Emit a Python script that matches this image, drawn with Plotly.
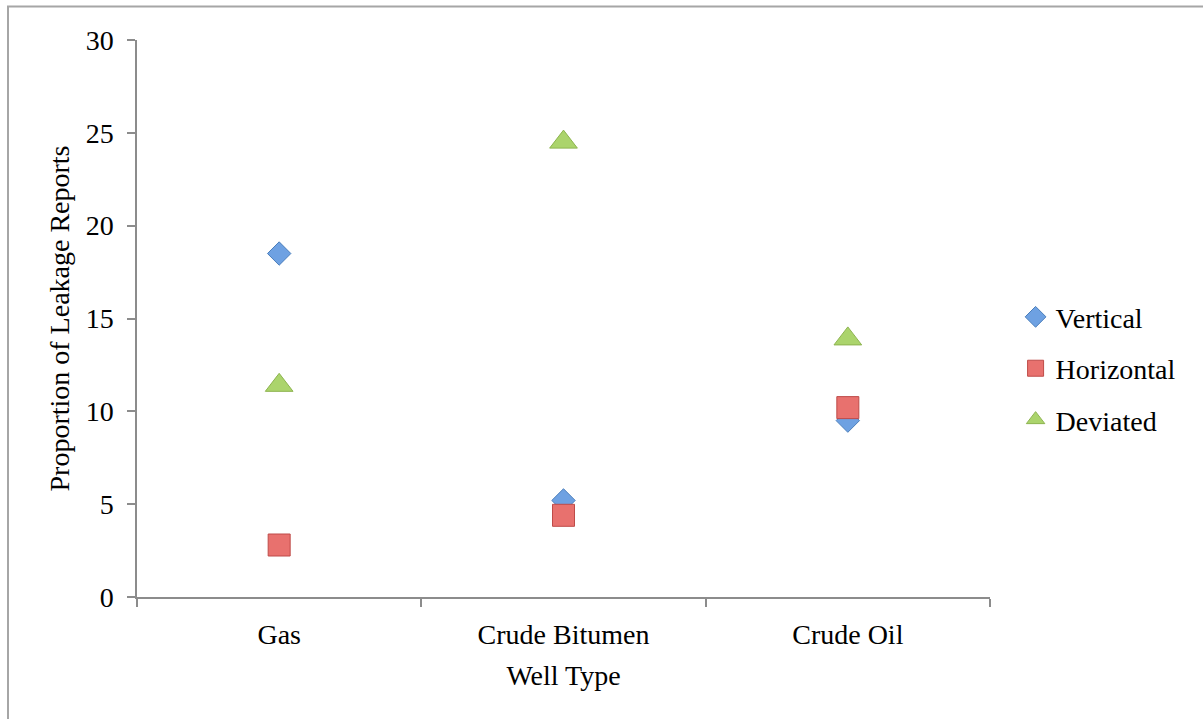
import plotly.graph_objects as go

# Well types on the x axis
well_types = ["Gas", "Crude Bitumen", "Crude Oil"]

# Proportion of leakage reports per well orientation
vertical = [18.5, 5.2, 9.5]
horizontal = [2.8, 4.4, 10.2]
deviated = [11.4, 24.5, 13.9]

y_ticks = [0, 5, 10, 15, 20, 25, 30]

FONT = "Liberation Serif, Times New Roman, serif"
FS = 28
AXIS_GRAY = "#8c8c8c"

fig = go.Figure()

series = [
    ("Vertical", vertical, "diamond", 18, "#6ea1e2", "#4a7ebb"),
    ("Horizontal", horizontal, "square", 22, "#e8716e", "#be4b48"),
    ("Deviated", deviated, "triangle-up", 24, "#abd46c", "#8db44f"),
]

for name, values, symbol, size, fill, edge in series:
    fig.add_trace(go.Scatter(
        x=well_types,
        y=values,
        mode="markers",
        name=name,
        legendgroup=name,
        marker=dict(symbol=symbol, size=size, color=fill,
                    line=dict(color=edge, width=1)),
    ))

# Frame around the whole chart
px_left, px_right, px_top, px_bottom = 137, 990, 40, 597
pw = px_right - px_left
ph = px_bottom - px_top
fig.add_shape(
    type="rect", xref="paper", yref="paper",
    x0=(8 - px_left) / pw, x1=(1215 - px_left) / pw,
    y0=(px_bottom - 730) / ph, y1=(px_bottom - 6.5) / ph,
    line=dict(color="#a6a6a6", width=2), fillcolor="rgba(0,0,0,0)",
)

fig.update_layout(
    width=1203, height=719,
    margin=dict(l=px_left, r=1203 - px_right, t=px_top, b=719 - px_bottom),
    paper_bgcolor="white", plot_bgcolor="white",
    font=dict(family=FONT, size=FS, color="black"),
    showlegend=True,
    legend=dict(
        x=1.03, y=0.41, xanchor="left", yanchor="middle",
        font=dict(family=FONT, size=FS, color="black"),
        tracegroupgap=12, itemwidth=30,
        bgcolor="rgba(0,0,0,0)",
    ),
    xaxis=dict(
        type="category",
        tickson="boundaries",
        ticks="outside", ticklen=8, tickcolor=AXIS_GRAY, tickwidth=1.5,
        showline=True, linecolor=AXIS_GRAY, linewidth=1.5,
        showgrid=False, zeroline=False,
        tickfont=dict(family=FONT, size=FS),
        ticklabelstandoff=12,
        title=dict(text="Well Type", font=dict(family=FONT, size=FS), standoff=16),
        range=[-0.5, 2.5],
    ),
    yaxis=dict(
        range=[0, 30],
        tickvals=y_ticks,
        ticks="outside", ticklen=8, tickcolor=AXIS_GRAY, tickwidth=1.5,
        showline=True, linecolor=AXIS_GRAY, linewidth=1.5,
        showgrid=False, zeroline=False,
        tickfont=dict(family=FONT, size=FS),
        ticklabelstandoff=8,
        title=dict(text="Proportion of Leakage Reports",
                   font=dict(family=FONT, size=FS), standoff=8),
    ),
)

fig.write_html("out.html")
